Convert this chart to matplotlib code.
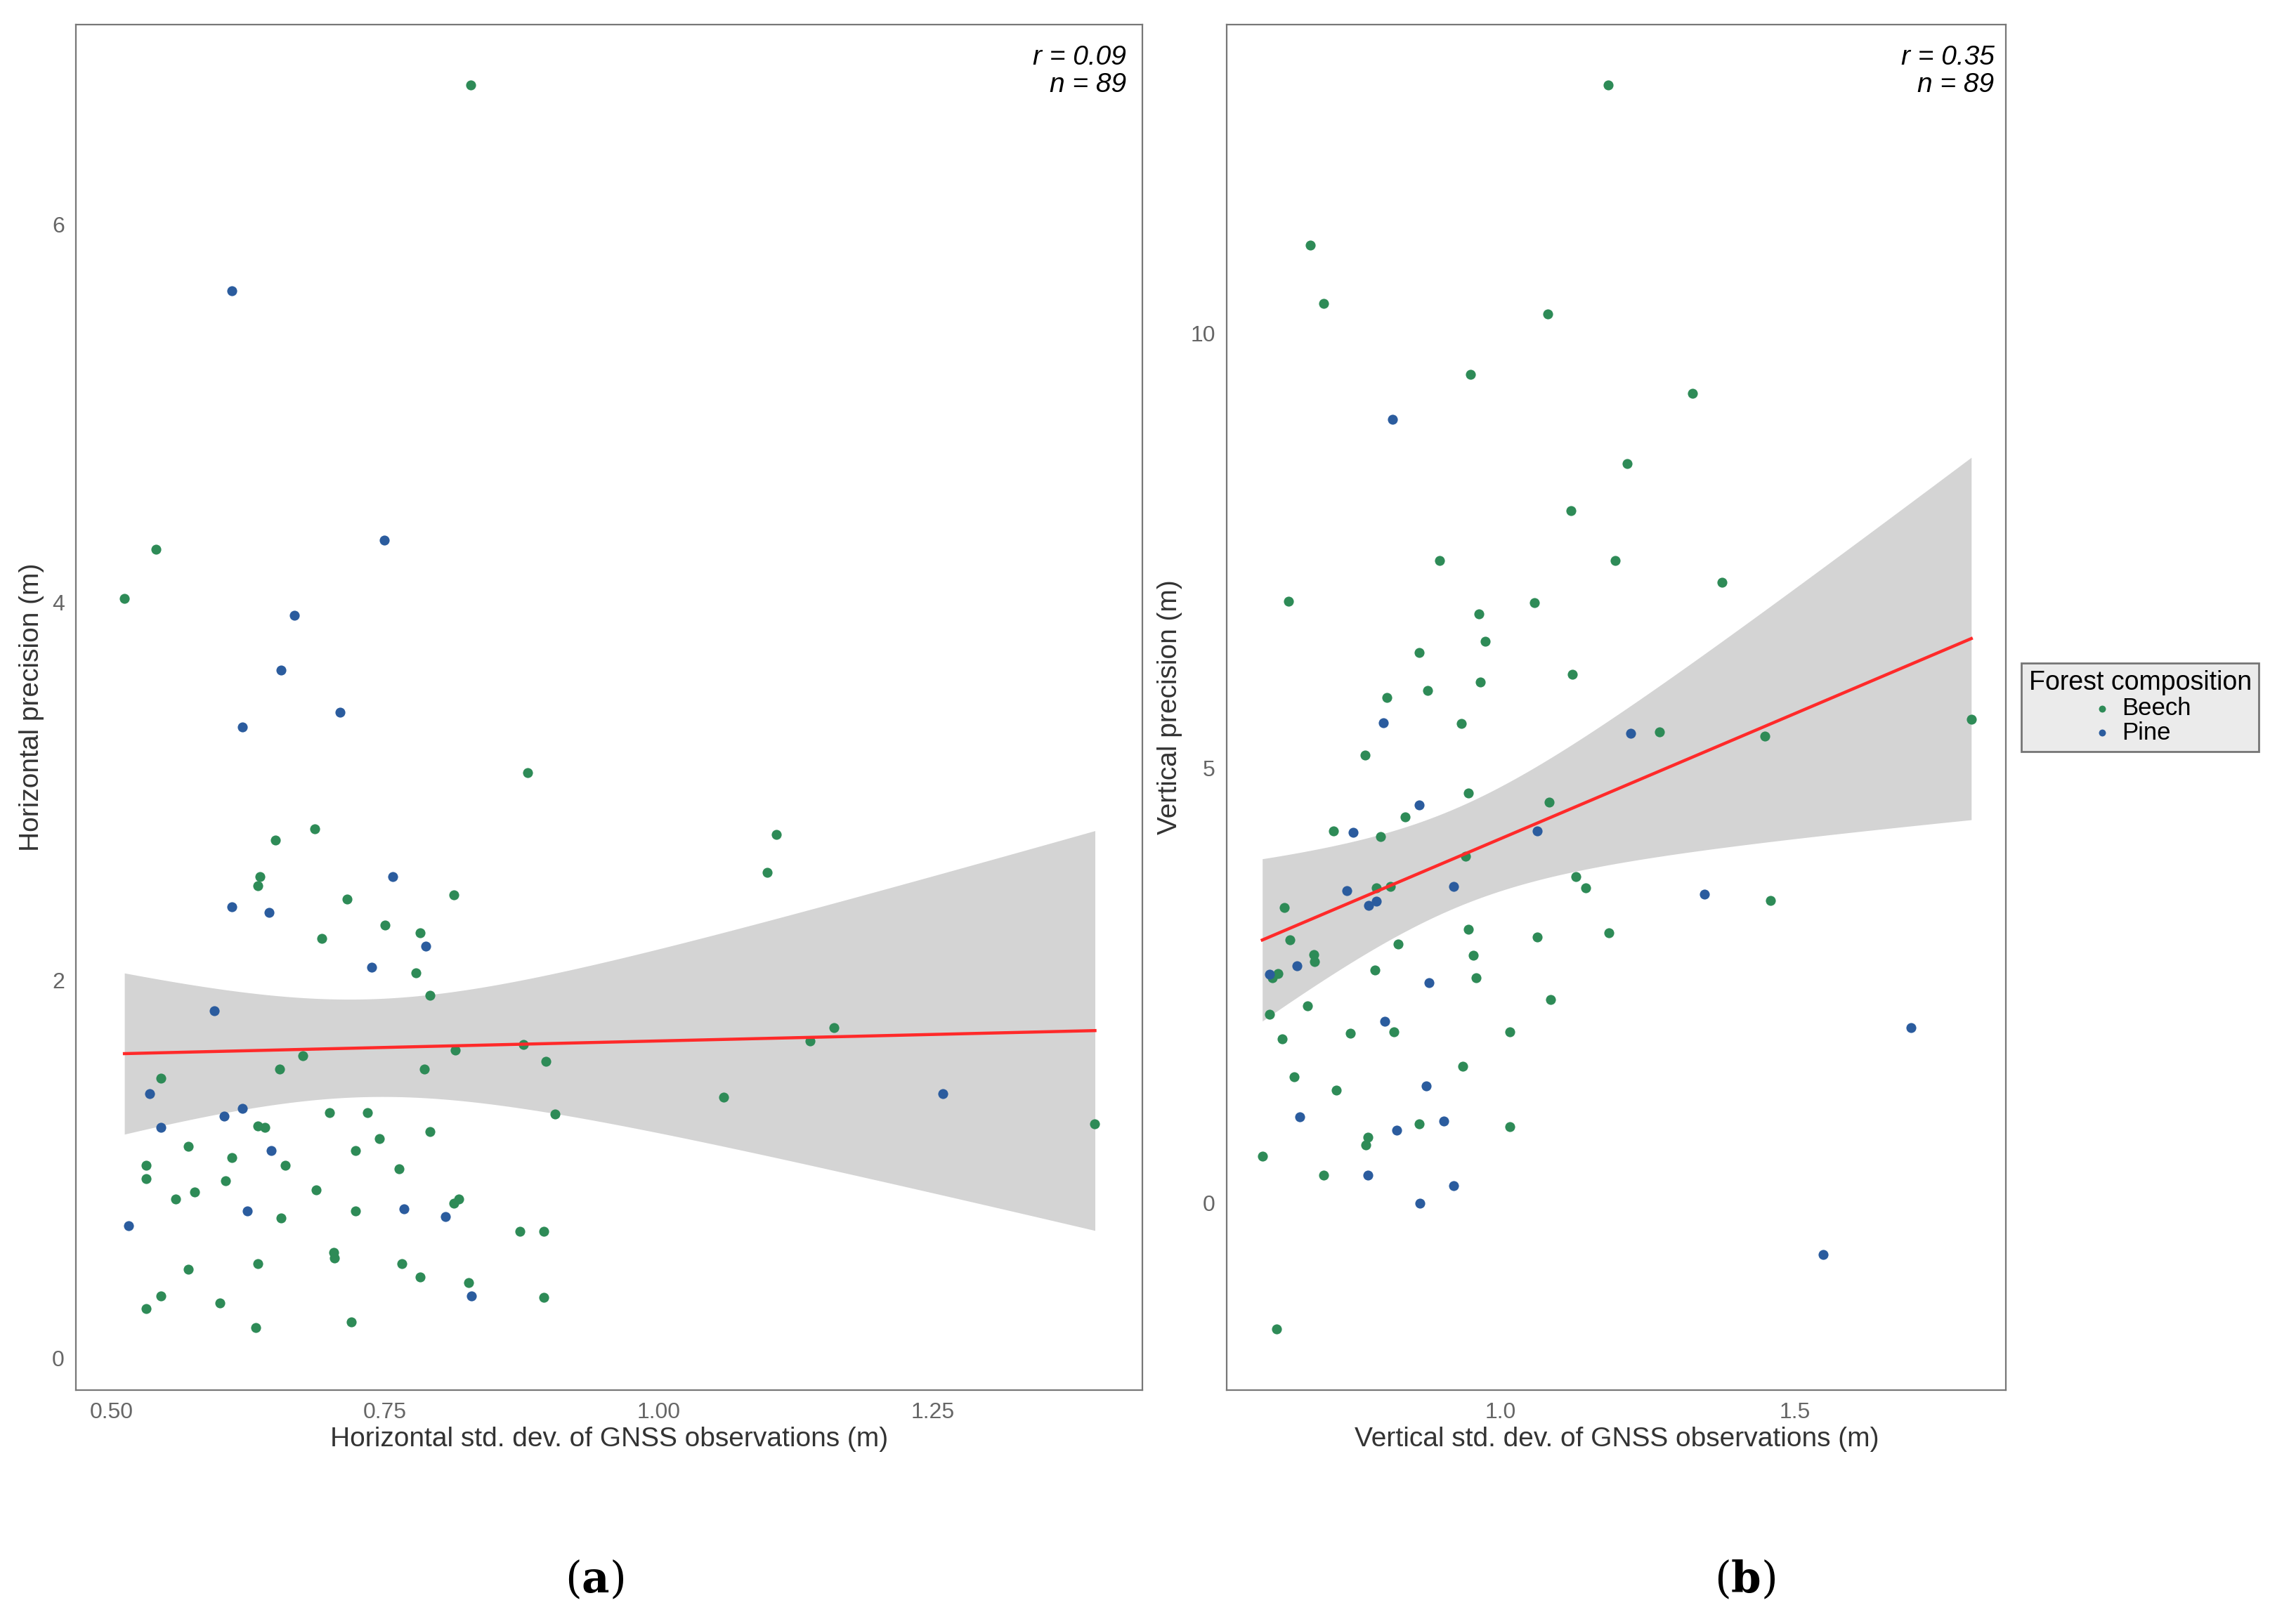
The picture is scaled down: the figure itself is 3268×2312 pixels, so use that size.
import numpy as np
from matplotlib import pyplot as plt

plt.rcParams['font.family'] = 'Liberation Sans'
plt.rcParams['mathtext.fontset'] = 'dejavuserif'

# Panel (a): horizontal
h_beech_x = [.512, .541, .828, .880, 1.107, 1.099, .650, .686, .636, .634, .715, .813, .692, .750, .782,
             .778, .791, 1.160, 1.138, .876, .814, .675, .654, .786, .897, .545, 1.059, 1.398, .905, .699,
             .734, .634, .640, .791, .745, .723, .570, .610, .532, .659, .763, .604, .532, .687, .576,
             .559, .817, .813, .723, .655, .873, .895, .703, .704, .570, .634, .765, .782, .826, .895,
             .545, .599, .532, .719, .632]
h_beech_y = [4.02, 4.28, 6.74, 3.10, 2.77, 2.57, 2.74, 2.80, 2.55, 2.50, 2.43, 2.45, 2.22, 2.29, 2.25,
             2.04, 1.92, 1.75, 1.68, 1.66, 1.63, 1.60, 1.53, 1.53, 1.57, 1.48, 1.38, 1.24, 1.29, 1.30,
             1.30, 1.23, 1.22, 1.20, 1.16, 1.10, 1.12, 1.06, 1.02, 1.02, 1.00, .94, .95, .89, .88,
             .84, .84, .82, .78, .74, .67, .67, .56, .53, .47, .50, .50, .43, .40, .32,
             .33, .29, .26, .19, .16]
h_pine_x = [.610, .749, .667, .655, .709, .620, .757, .610, .644, .738, .787, .594, .535, 1.259, .620,
            .603, .545, .646, .624, .767, .805, .516, .829]
h_pine_y = [5.65, 4.33, 3.93, 3.64, 3.42, 3.34, 2.55, 2.39, 2.36, 2.07, 2.18, 1.84, 1.40, 1.40, 1.32,
            1.28, 1.22, 1.10, .78, .79, .75, .70, .33]

# Panel (b): vertical
v_beech_x = [1.182, .677, .699, 1.080, .948, 1.326, 1.214, 1.119, .896, 1.194, 1.376, .639, 1.057, .963,
             .973, .861, 1.122, .965, .876, .806, 1.799, .933, 1.269, 1.448, .769, .945, 1.082, .838,
             .796, .716, .940, 1.127, 1.144, .789, .813, 1.458, .632, .945, 1.184, 1.062, .642, .826,
             .682, .684, .953, .786, .622, .958, .612, .672, 1.085, .607, 1.015, .744, .818, .629,
             .935, .649, .721, 1.015, .861, .774, .771, .595, .699, .619]
v_beech_y = [12.85, 11.01, 10.34, 10.22, 9.53, 9.31, 8.50, 7.96, 7.39, 7.39, 7.14, 6.92, 6.90, 6.77,
             6.46, 6.33, 6.08, 5.99, 5.89, 5.81, 5.56, 5.51, 5.42, 5.37, 5.15, 4.71, 4.61, 4.44,
             4.21, 4.28, 3.99, 3.75, 3.62, 3.62, 3.64, 3.48, 3.40, 3.15, 3.11, 3.06, 3.03, 2.98,
             2.86, 2.78, 2.85, 2.68, 2.64, 2.59, 2.59, 2.27, 2.34, 2.17, 1.97, 1.95, 1.97, 1.89,
             1.57, 1.45, 1.30, .88, .91, .76, .67, .54, .32, -1.45]
v_pine_x = [.816, .801, 1.221, .861, 1.062, .749, .739, .920, 1.346, .789, .776, .607, .654, .878,
            .803, 1.697, .873, .659, .903, .823, .774, .920, .863, 1.547]
v_pine_y = [9.01, 5.52, 5.40, 4.58, 4.28, 4.26, 3.59, 3.64, 3.55, 3.47, 3.42, 2.63, 2.73, 2.53,
            2.09, 2.02, 1.35, .99, .94, .84, .32, .20, .0, -.59]

BEECH = '#2e8b57'
PINE = '#2b5c9e'


def draw_panel(ax, bx, by, px, py, xlim, ylim, xticks, xlabels, yticks, xlabel, ylabel, r_txt):
    x = np.array(bx + px)
    y = np.array(by + py)
    # linear fit with 95% confidence band
    n = len(x)
    b, a = np.polyfit(x, y, 1)
    xs = np.linspace(x.min(), x.max(), 200)
    fit = a + b * xs
    resid = y - (a + b * x)
    s = np.sqrt(np.sum(resid ** 2) / (n - 2))
    se = s * np.sqrt(1 / n + (xs - x.mean()) ** 2 / np.sum((x - x.mean()) ** 2))
    ax.fill_between(xs, fit - 1.988 * se, fit + 1.988 * se, color='#d4d4d4', lw=0, zorder=1)
    ax.scatter(bx, by, s=26, color=BEECH, zorder=3, label='Beech', linewidths=0)
    ax.scatter(px, py, s=26, color=PINE, zorder=3, label='Pine', linewidths=0)
    ax.plot(xs, fit, color='#ff2a2a', lw=1.6, zorder=4)
    ax.set_xlim(*xlim)
    ax.set_ylim(*ylim)
    ax.set_xticks(xticks)
    ax.set_xticklabels(xlabels)
    ax.set_yticks(yticks)
    ax.tick_params(length=0, labelsize=11.5, colors='#666666', pad=6)
    for sp in ax.spines.values():
        sp.set_color('#777777')
        sp.set_linewidth(0.8)
    ax.set_xlabel(xlabel, fontsize=14, labelpad=2, color='#333333')
    ax.set_ylabel(ylabel, fontsize=14, labelpad=4, color='#333333')
    ax.text(0.985, 0.985, r_txt + '\nn = 89', transform=ax.transAxes, ha='right', va='top',
            fontsize=14, style='italic', linespacing=1.1)


fig = plt.figure(figsize=(16.34, 11.56), dpi=200)
ax1 = fig.add_axes([0.0332, 0.144, 0.4642, 0.841])
ax2 = fig.add_axes([0.5344, 0.144, 0.3393, 0.841])

draw_panel(ax1, h_beech_x, h_beech_y, h_pine_x, h_pine_y, (0.468, 1.441), (-0.17, 7.06),
           [0.5, 0.75, 1.0, 1.25], ['0.50', '0.75', '1.00', '1.25'], [0, 2, 4, 6],
           'Horizontal std. dev. of GNSS observations (m)', 'Horizontal precision (m)', 'r = 0.09')
draw_panel(ax2, v_beech_x, v_beech_y, v_pine_x, v_pine_y, (0.535, 1.858), (-2.15, 13.55),
           [1.0, 1.5], ['1.0', '1.5'], [0, 5, 10],
           'Vertical std. dev. of GNSS observations (m)', 'Vertical precision (m)', 'r = 0.35')

leg = ax2.legend(title='Forest composition', loc='center left', bbox_to_anchor=(1.02, 0.5),
                 fontsize=12.5, title_fontsize=13.5, frameon=True, fancybox=False,
                 markerscale=0.7, handletextpad=0.3, borderaxespad=0, labelspacing=0.05,
                 handlelength=1.0, borderpad=0.3)
leg.get_frame().set_facecolor('#e6e6e6')
leg.get_frame().set_edgecolor('#555555')

fig.text(0.259, 0.027, r'($\mathbf{a}$)', ha='center', va='center', fontsize=22, family='DejaVu Serif')
fig.text(0.760, 0.027, r'($\mathbf{b}$)', ha='center', va='center', fontsize=22, family='DejaVu Serif')

fig.savefig('out.png', dpi=200)
